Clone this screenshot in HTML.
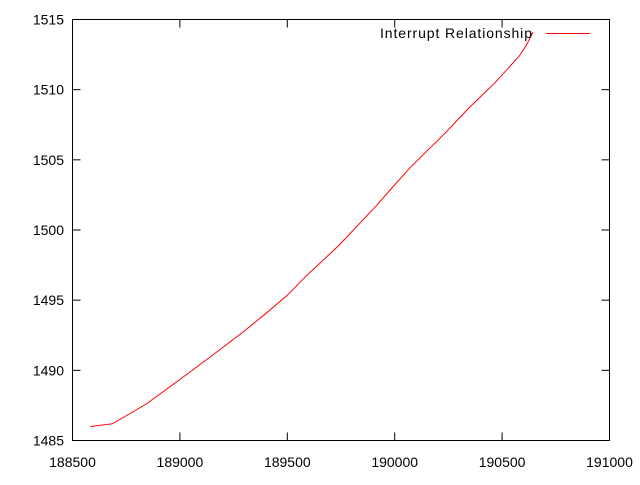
<!DOCTYPE html>
<html><head><meta charset="utf-8"><style>
html,body{margin:0;padding:0;background:#fff;}
text{font-family:"Liberation Sans",sans-serif;font-size:14px;fill:#000;}
</style></head><body>
<svg id="chart" width="640" height="480" xmlns="http://www.w3.org/2000/svg">
<rect x="72.5" y="19.5" width="537" height="421" fill="none" stroke="#000" stroke-width="1"/>
<g id="axes"></g>
<path id="series" fill="none" stroke="#f00" stroke-width="1"/>
<text x="380" y="38" textLength="152" lengthAdjust="spacing">Interrupt Relationship</text>
<line x1="546" y1="33.5" x2="590" y2="33.5" stroke="#f00" stroke-width="1"/>
</svg>
<script>
const xTicks=[188500,189000,189500,190000,190500,191000];
const yTicks=[1485,1490,1495,1500,1505,1510,1515];
const xVals=[188583,188687,188843,189000,189154,189292,189396,189500,189586,189740,189913,189993,190069,190234,190346,190467,190580,190614,190644];
const yVals=[1486.0,1486.2,1487.6,1489.35,1491.1,1492.7,1494.0,1495.35,1496.7,1498.9,1501.7,1503.1,1504.4,1506.9,1508.7,1510.5,1512.4,1513.2,1514.1];
const L=72.5,R=609.5,T=19.5,B=440.5;
const sx=v=>L+(v-188500)/(191000-188500)*(R-L);
const sy=v=>B-(v-1485)/(1515-1485)*(B-T);
const NS="http://www.w3.org/2000/svg";
const g=document.getElementById('axes');
function mk(tag,attrs){const e=document.createElementNS(NS,tag);for(const k in attrs)e.setAttribute(k,attrs[k]);g.appendChild(e);return e;}
xTicks.forEach(v=>{
  const x=sx(v);
  const t1=mk('line',{x1:x,y1:B,x2:x,y2:B-8,stroke:'#000'});
  
  
  const t2=mk('line',{x1:x,y1:T,x2:x,y2:T+8,stroke:'#000'});
  
  
  const tx=mk('text',{x:x,y:467,'text-anchor':'middle'});
  tx.textContent=v;
  
  
});
yTicks.forEach(v=>{
  const y=sy(v);
  const t1=mk('line',{x1:L,y1:y,x2:L+8,y2:y,stroke:'#000'});
  
  
  const t2=mk('line',{x1:R,y1:y,x2:R-8,y2:y,stroke:'#000'});
  
  
  const tx=mk('text',{x:64,y:y+5,'text-anchor':'end'});
  tx.textContent=v;
  
  
});
document.getElementById('series').setAttribute('d',xVals.map((v,i)=>(i?'L':'M')+sx(v).toFixed(1)+','+sy(yVals[i]).toFixed(1)).join(''));
</script>
</body></html>
